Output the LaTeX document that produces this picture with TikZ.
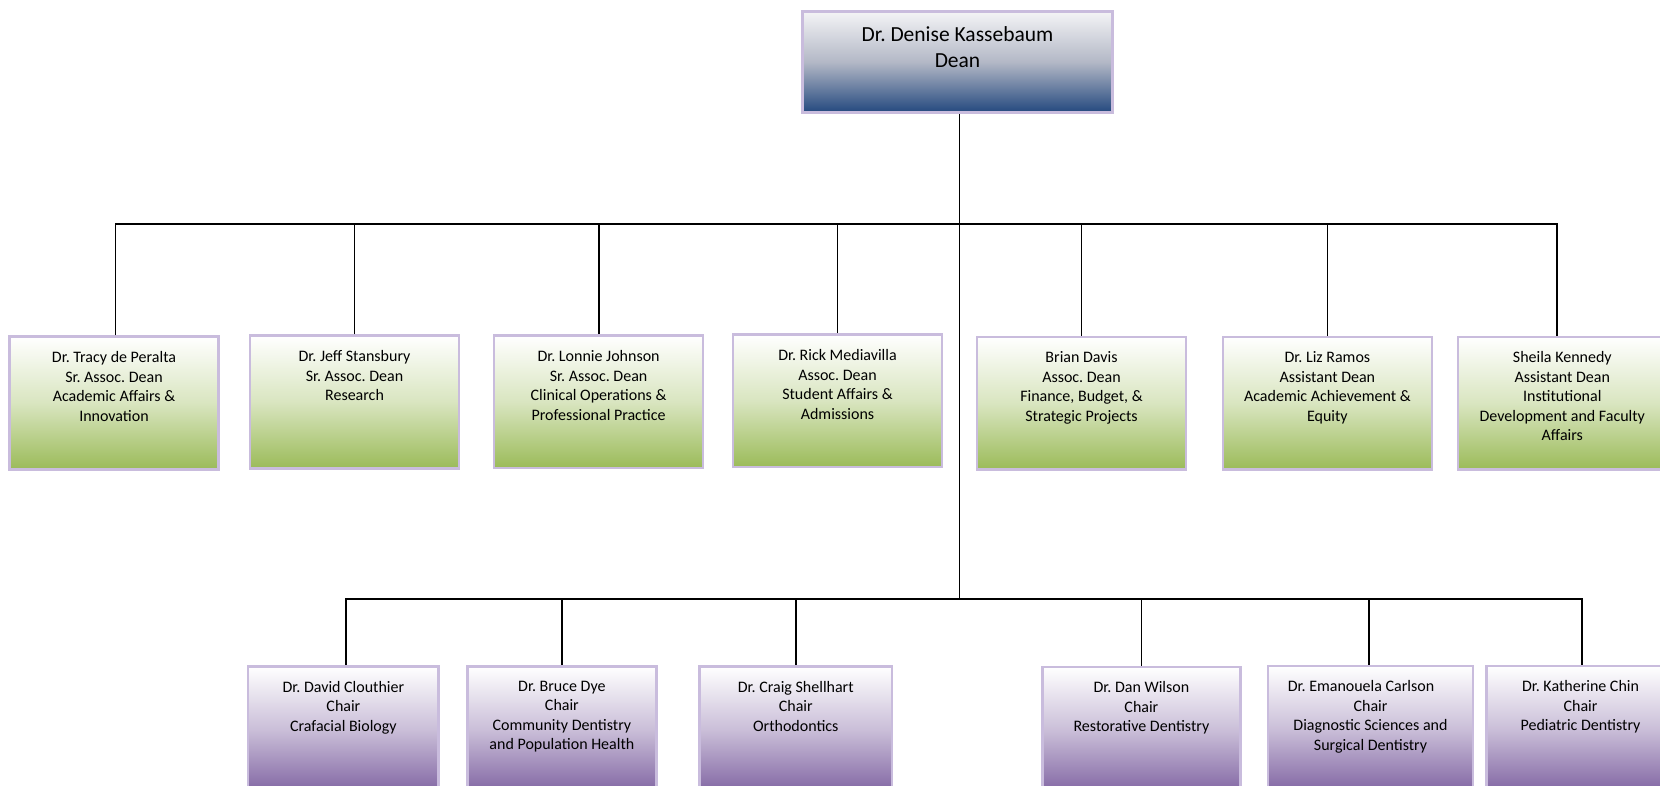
\documentclass[tikz,border=0pt]{standalone}
\usepackage{fontspec}
\setmainfont{Carlito}
\frenchspacing
\definecolor{lav}{HTML}{C9BCDD}
\definecolor{grn}{HTML}{9BBB59}
\definecolor{prp}{HTML}{8064A2}
\definecolor{deantop}{HTML}{F4F4F6}
\definecolor{deanmid}{HTML}{B3B8C6}
\definecolor{deanbot}{HTML}{23487E}
\begin{document}
\begin{tikzpicture}[x=1pt,y=-1pt,
  box/.style={draw=lav, line width=2.6pt, outer sep=1.3pt, inner sep=0pt, rectangle},
  deanbox/.style={box, top color=deantop, bottom color=deanbot, middle color=deanmid,
    minimum width=310.4pt, minimum height=101.4pt},
  assoc/.style={box, top color=white, bottom color=grn, middle color=grn!38!white,
    minimum width=209pt, minimum height=132.6pt},
  chair/.style={box, top color=white, bottom color=prp, middle color=prp!42!white,
    minimum height=127.4pt},
  txt/.style={anchor=north, align=center, inner sep=0pt, text=black,
    font=\fontsize{16}{19.5}\selectfont\frenchspacing},
  deantxt/.style={txt, font=\fontsize{21.5}{26.7}\selectfont\frenchspacing},
  link/.style={line width=1.8pt, draw=black}]
\useasboundingbox (0,0) rectangle (1660,785);
\clip (0,0) rectangle (1660,785);
\fill[white] (0,0) rectangle (1660,785);

% dean
\node[deanbox] (dean) at (957.5,62) {};
\node[deantxt] (tdean) at ([yshift=-16pt]dean.north) {Dr. Denise Kassebaum\\Dean};

% associate deans
\node[assoc] (b1) at (114,403) {};
\node[assoc] (b2) at (354.5,402) {};
\node[assoc] (b3) at (598.6,401.8) {};
\node[assoc] (b4) at (837.5,400.8) {};
\node[assoc] (b5) at (1081.5,403.2) {};
\node[assoc] (b6) at (1327.4,403.2) {};
\node[assoc] (b7) at (1562.3,403.2) {};

\node[txt] (t1) at ([yshift=-16pt]b1.north) {Dr. Tracy de Peralta\\Sr. Assoc. Dean\\Academic Affairs \&\\Innovation};
\node[txt] (t2) at ([yshift=-16pt]b2.north) {Dr. Jeff Stansbury\\Sr. Assoc. Dean\\Research};
\node[txt] (t3) at ([yshift=-16pt]b3.north) {Dr. Lonnie Johnson\\Sr. Assoc. Dean\\Clinical Operations \&\\Professional Practice};
\node[txt] (t4) at ([yshift=-16pt]b4.north) {Dr. Rick Mediavilla\\Assoc. Dean\\Student Affairs \&\\Admissions};
\node[txt] (t5) at ([yshift=-16pt]b5.north) {Brian Davis\\Assoc. Dean\\Finance, Budget, \&\\Strategic Projects};
\node[txt] (t6) at ([yshift=-16pt]b6.north) {Dr. Liz Ramos\\Assistant Dean\\Academic Achievement \&\\Equity};
\node[txt] (t7) at ([yshift=-16pt]b7.north) {Sheila Kennedy\\Assistant Dean\\Institutional\\Development and Faculty\\Affairs};

% chairs
\node[chair, minimum width=190.7pt] (c1) at (343.4,730) {};
\node[chair, minimum width=189.1pt] (c2) at (561.9,730) {};
\node[chair, minimum width=192.4pt] (c3) at (795.8,730) {};
\node[chair, minimum width=198.1pt] (c4) at (1141.4,730.5) {};
\node[chair, minimum width=205pt] (c5) at (1370.5,729.5) {};
\node[chair, minimum width=188.4pt] (c6) at (1580.5,729.5) {};

\node[txt] (u1) at ([yshift=-16pt]c1.north) {Dr. David Clouthier\\Chair\\Crafacial Biology};
\node[txt] (u2) at ([yshift=-16pt]c2.north) {Dr. Bruce Dye\\Chair\\Community Dentistry\\and Population Health};
\node[txt] (u3) at ([yshift=-16pt]c3.north) {Dr. Craig Shellhart\\Chair\\Orthodontics};
\node[txt] (u4) at ([yshift=-16pt]c4.north) {Dr. Dan Wilson\\Chair\\Restorative Dentistry};
\node[txt] (u5) at ([yshift=-16pt]c5.north) {Dr. Emanouela Carlson\hspace*{19pt}\\Chair\\Diagnostic Sciences and\\Surgical Dentistry};
\node[txt] (u6) at ([yshift=-16pt]c6.north) {Dr. Katherine Chin\\Chair\\Pediatric Dentistry};

% connectors
\coordinate (j1) at (959.5,223.8);
\coordinate (j2) at (959.5,598.7);
\draw[link] (dean.south -| j1) -- (j2);

\draw[link] ([xshift=1.4pt]b1.north) -- ([xshift=1.4pt]b1.north |- j1)
  -- ([xshift=-5pt]b7.north |- j1) -- ([xshift=-5pt]b7.north);
\foreach \n in {b2,b3,b4,b5,b6}
  \draw[link] (\n.north) -- (\n.north |- j1);

\draw[link] ([xshift=2.6pt]c1.north) -- ([xshift=2.6pt]c1.north |- j2)
  -- ([xshift=1.2pt]c6.north |- j2) -- ([xshift=1.2pt]c6.north);
\foreach \n in {c2,c3,c4}
  \draw[link] (\n.north) -- (\n.north |- j2);
\draw[link] ([xshift=-1.2pt]c5.north) -- ([xshift=-1.2pt]c5.north |- j2);
\end{tikzpicture}
\end{document}
